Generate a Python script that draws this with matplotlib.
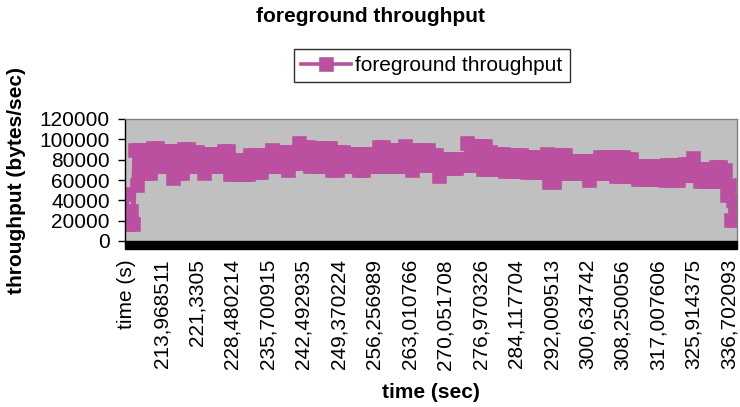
import matplotlib
matplotlib.use("Agg")
import matplotlib.pyplot as plt
from matplotlib.patches import Rectangle
import numpy as np

plt.rcParams['font.family'] = ['Liberation Sans', 'DejaVu Sans']

# ---- data ----
series_name = "foreground throughput"
# throughput (bytes/sec) per category, 16 categories per row (one row per labelled tick)
throughput = [
    46000, 17000, 30000, 17000, 89200, 55000, 89200, 66900, 89200, 66900, 89200, 66900, 91800, 74100, 91800, 74100,
    88500, 74100, 88500, 74100, 88500, 62000, 88500, 66900, 88500, 66900, 90800, 74100, 90800, 74100, 87500, 74100,
    87500, 74100, 85900, 66900, 85900, 74100, 85900, 74100, 85900, 74100, 85900, 74100, 88500, 74100, 88500, 66200,
    79400, 66200, 79400, 66200, 79400, 66200, 79400, 66200, 84300, 67600, 84300, 67600, 84300, 67600, 84300, 73500,
    84300, 73500, 89200, 73500, 87500, 73500, 87500, 73500, 87500, 69500, 87500, 76700, 87500, 76700, 96400, 76700,
    92500, 76700, 92500, 73500, 91500, 73500, 91500, 73500, 91500, 73500, 91500, 73500, 91500, 69500, 87500, 69500,
    87500, 74100, 87500, 74100, 85900, 74100, 85900, 74100, 85900, 70100, 85900, 70100, 85900, 73500, 85900, 73500,
    85900, 73500, 92500, 73500, 92500, 73500, 89200, 73500, 89200, 74100, 89200, 74100, 89200, 74100, 93100, 74100,
    89200, 70100, 89200, 75000, 89200, 75000, 89200, 75000, 89200, 75000, 84300, 75000, 84300, 63600, 81000, 71800,
    81000, 71800, 81000, 71800, 81000, 71800, 81000, 75000, 81000, 75000, 96400, 75000, 93100, 75000, 93100, 75000,
    93100, 70800, 93100, 70800, 87500, 70800, 85900, 70800, 85900, 70800, 85900, 68600, 84300, 68600, 84300, 68600,
    84300, 68600, 84300, 68600, 82600, 67600, 82600, 67600, 82600, 67600, 82600, 67600, 82600, 67600, 85900, 57700,
    84300, 57700, 84300, 66900, 84300, 66900, 84300, 66900, 78700, 66900, 78700, 66900, 78700, 66900, 78700, 66900,
    78700, 59700, 78700, 66900, 78700, 66900, 82600, 66900, 82600, 66900, 82600, 66900, 82600, 64200, 82600, 64200,
    82600, 64200, 81000, 64200, 81000, 64200, 73500, 61000, 73500, 61000, 73500, 61000, 73500, 61000, 73500, 61000,
    73500, 61000, 73500, 59700, 74400, 59700, 74400, 59700, 74400, 59700, 74400, 65200, 76000, 65200, 76000, 65200,
    81900, 65200, 71100, 58700, 71100, 58700, 71100, 58700, 71100, 58700, 72800, 58700, 72800, 58700, 70100, 45000,
    55000, 21000, 40000, 21000,
]
label_step = 16
tick_labels = ["time (s)", "213,968511", "221,3305", "228,480214", "235,700915", "242,492935",
               "249,370224", "256,256989", "263,010766", "270,051708", "276,970326", "284,117704",
               "292,009513", "300,634742", "308,250056", "317,007606", "325,914375", "336,702093"]
y_ticks = [0, 20000, 40000, 60000, 80000, 100000, 120000]

title = "foreground throughput"
x_title = "time (sec)"
y_title = "throughput (bytes/sec)"

# ---- styling ----
W, H = 740, 407
color = "#BB4FA0"
fig = plt.figure(figsize=(W / 100, H / 100), dpi=100)
fig.patch.set_facecolor("white")

ax_left, ax_right, ax_top, ax_bot = 125, 736.7, 119, 241
ax = fig.add_axes([ax_left / W, (H - ax_bot) / H, (ax_right - ax_left) / W, (ax_bot - ax_top) / H])
ax.set_facecolor("#C0C0C0")

x = np.arange(len(throughput))
ax.plot(x, throughput, color=color, lw=3.6, marker="s", ms=9.6, mfc=color, mec=color, mew=0.4,
        solid_joinstyle="round", label=series_name, zorder=2)

ax.set_xlim(-0.5, len(throughput) - 0.5)
ax.set_ylim(0, 120000)
ax.set_yticks(y_ticks)
ax.set_yticklabels([str(v) for v in y_ticks])
ax.set_xticks(np.arange(len(tick_labels)) * label_step)
ax.set_xticklabels(tick_labels, rotation=90, ha="center", va="top")

ax.tick_params(axis="x", length=0, pad=13, labelsize=15)
ax.tick_params(axis="y", length=5, width=1, pad=6, direction="out", labelsize=15, color="black")

ax.spines["left"].set_color("black")
ax.spines["left"].set_linewidth(1)
for s in ("top", "right"):
    ax.spines[s].set_color("#808080")
    ax.spines[s].set_linewidth(1)
ax.spines["bottom"].set_visible(False)

bar_h = 8 / (ax_bot - ax_top)
ax.add_patch(Rectangle((0, -bar_h), 1, bar_h, transform=ax.transAxes, color="black",
                       clip_on=False, zorder=5))

fig.text(370 / W, 1 - 16 / H, title, ha="center", va="center", fontsize=15, fontweight="bold")
fig.text((ax_left + ax_right) / 2 / W, 1 - 393 / H, x_title, ha="center", va="center",
         fontsize=15, fontweight="bold")
fig.text(17 / W, 1 - 180 / H, y_title, ha="center", va="center", rotation=90,
         fontsize=15, fontweight="bold")

leg = ax.legend(loc="center", bbox_to_anchor=(431.5 / W, 1 - 65.5 / H), bbox_transform=fig.transFigure,
                fontsize=15, frameon=True, fancybox=False, edgecolor="#303030", framealpha=1,
                handlelength=2.4, handletextpad=0.2, borderpad=0.35, borderaxespad=0)
leg.get_frame().set_linewidth(1)
for h in leg.legend_handles:
    h.set_linewidth(2.6)

fig.savefig("out.png", dpi=100)
